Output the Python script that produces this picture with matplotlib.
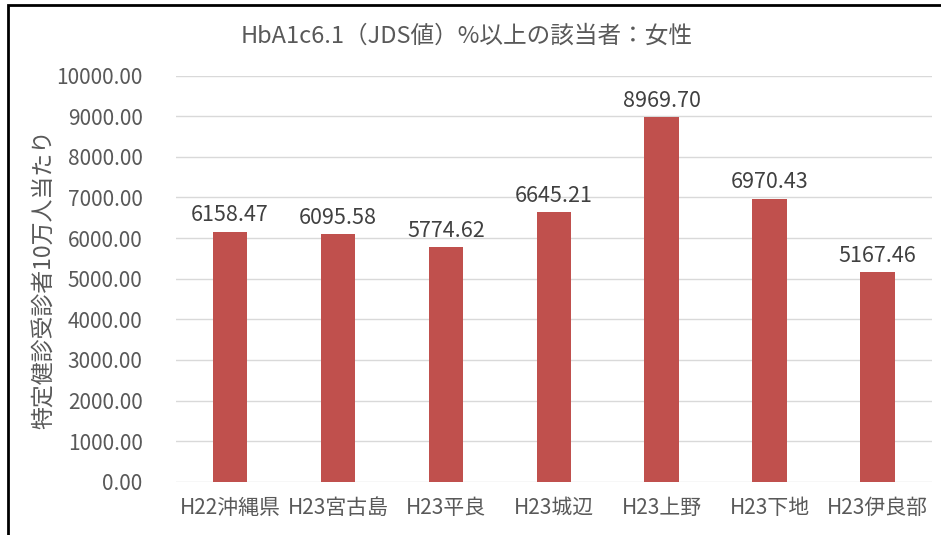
import matplotlib.pyplot as plt
from matplotlib.patches import Rectangle

plt.rcParams['font.family'] = ['Noto Sans CJK JP', 'DejaVu Sans']

categories = ['H22沖縄県', 'H23宮古島', 'H23平良', 'H23城辺', 'H23上野', 'H23下地', 'H23伊良部']
values = [6158.47, 6095.58, 5774.62, 6645.21, 8969.70, 6970.43, 5167.46]
yticks = [0, 1000, 2000, 3000, 4000, 5000, 6000, 7000, 8000, 9000, 10000]

TEXT = '#595959'
BAR = '#C0504D'

fig = plt.figure(figsize=(9.41, 5.35), dpi=100)
ax = fig.add_axes([0.187, 0.0996, 0.803, 0.759])

x = list(range(len(categories)))
bars = ax.bar(x, values, width=0.32, color=BAR, zorder=3)
for xi, v in zip(x, values):
    ax.text(xi, v + 130, '%.2f' % v, ha='center', va='bottom', fontsize=15.5, color='#404040')

ax.set_xlim(-0.5, len(categories) - 0.5)
ax.set_ylim(0, 10000)
ax.set_yticks(yticks)
ax.set_yticklabels(['%.2f' % t for t in yticks])
ax.set_xticks(x)
ax.set_xticklabels(categories)
ax.tick_params(axis='both', length=0, labelsize=15, labelcolor=TEXT)
ax.tick_params(axis='x', pad=11)
ax.tick_params(axis='y', pad=24)
ax.grid(axis='y', color='#D9D9D9', linewidth=1, zorder=0)
for s in ax.spines.values():
    s.set_visible(False)

ax.set_ylabel('特定健診受診者10万人当たり', fontsize=16.5, color=TEXT, labelpad=0)
fig.text(0.496, 0.932, 'HbA1c6.1（JDS値）%以上の該当者：女性', ha='center', va='center',
         fontsize=17, color=TEXT)

# chart outer frame (only top and left visible in the crop)
fig.add_artist(Rectangle((8 / 941, -0.1), 1.2, 1.1 - 5 / 535, transform=fig.transFigure,
                         fill=False, edgecolor='black', linewidth=2))

fig.savefig('out.png', dpi=100)
